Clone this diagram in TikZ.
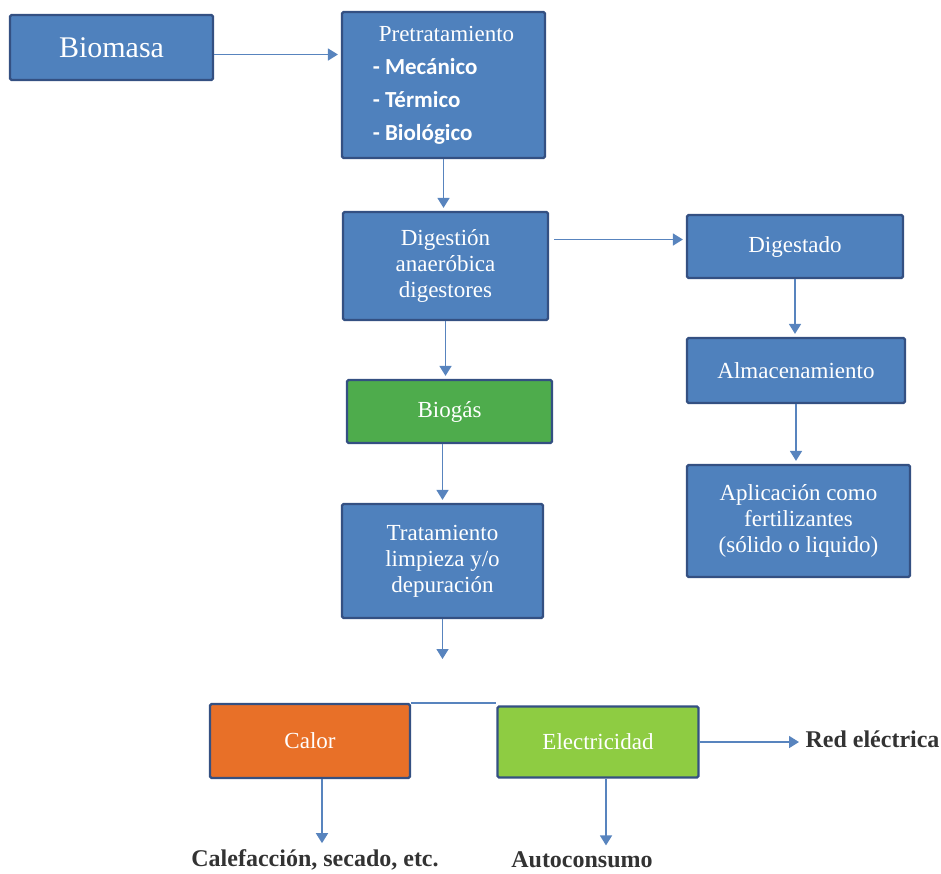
\documentclass[tikz,border=0pt]{standalone}
\usepackage{fontspec}
\setmainfont{Liberation Serif}
\setsansfont{Carlito}
\usetikzlibrary{arrows.meta}
\definecolor{boxblue}{RGB}{79, 129, 189}
\definecolor{edge}{RGB}{52, 80, 130}
\definecolor{gasgreen}{RGB}{78, 172, 76}
\definecolor{heat}{RGB}{232, 112, 40}
\definecolor{power}{RGB}{142, 204, 66}
\definecolor{flow}{RGB}{88, 132, 190}

\begin{document}
\begin{tikzpicture}[x=1pt, y=-1pt,
  box/.style={draw=edge, line width=2.2pt, fill=boxblue, text=white, align=center,
    rounded corners=1.5pt, inner sep=2pt, font=\fontsize{23}{26}\selectfont},
  flowarrow/.style={draw=flow, line width=1.6pt, -{Triangle[width=12pt, length=10pt]}, shorten >=3pt},
  outtext/.style={font=\bfseries\fontsize{24}{26}\selectfont, text=black!80}]
  \useasboundingbox (0, 0) rectangle (941, 873);

  \node[box, minimum width=203pt, minimum height=65pt, font=\fontsize{30}{32}\selectfont]
    (biomasa) at (111.5, 47.5) {Biomasa};
  \node[box, align=left, minimum width=203pt, minimum height=146pt, font=\fontsize{23}{33}\selectfont]
    (pretrat) at (443.5, 85) {\hspace*{6pt}Pretratamiento\\
      {\sffamily\bfseries - Mecánico}\\
      {\sffamily\bfseries - Térmico}\\
      {\sffamily\bfseries - Biológico}};
  \node[box, minimum width=205pt, minimum height=108pt]
    (digestion) at (445.5, 266) {Digestión\\anaeróbica\\digestores};
  \node[box, fill=gasgreen, minimum width=205pt, minimum height=63pt]
    (biogas) at (449.5, 411.5) {Biogás};
  \node[box, minimum width=201pt, minimum height=114pt]
    (tratam) at (442.5, 561) {Tratamiento\\limpieza y/o\\depuración};
  \coordinate (split) at (442.5, 662);

  \node[box, minimum width=216pt, minimum height=63pt]
    (digestado) at (795, 246.5) {Digestado};
  \node[box, minimum width=218pt, minimum height=65pt]
    (almacen) at (796, 370.5) {Almacenamiento};
  \node[box, minimum width=223pt, minimum height=112pt]
    (aplic) at (798.5, 521) {Aplicación como\\fertilizantes\\(sólido o liquido)};

  \node[box, fill=heat, minimum width=200pt, minimum height=74pt]
    (calor) at (310, 741) {Calor};
  \node[box, fill=power, minimum width=201pt, minimum height=71pt]
    (electr) at (598, 742) {Electricidad};
  \node[outtext, anchor=west] (red) at (802, 739) {Red eléctrica};
  \node[outtext] (calef) at (315, 860) {Calefacción, secado, etc.};
  \node[outtext] (autoc) at (582, 860) {Autoconsumo};

  \draw[flowarrow] ([yshift=-7pt]biomasa.east) -- ([yshift=-7pt]biomasa.east -| pretrat.west);
  \draw[flowarrow] (pretrat.south) -- (pretrat.south |- digestion.north);
  \draw[flowarrow, shorten <=5pt] ([yshift=7pt]digestion.east |- digestado.west) -- ([yshift=7pt]digestado.west);
  \draw[flowarrow] (digestion.south) -- (digestion.south |- biogas.north);
  \draw[flowarrow] (biogas.south -| tratam.north) -- (tratam.north);
  \draw[flowarrow] (tratam.south) -- (split);
  \draw[flowarrow] (digestado.south) -- (digestado.south |- almacen.north);
  \draw[flowarrow] (almacen.south) -- (almacen.south |- aplic.north);
  \draw[draw=flow, line width=1.6pt] (calor.north east) -- (calor.north east -| electr.west);
  \draw[flowarrow] (electr.east) -- (electr.east -| red.west);
  \draw[flowarrow] ([xshift=12pt]calor.south) -- ([xshift=12pt]calor.south |- calef.north);
  \draw[flowarrow] ([xshift=8pt]electr.south) -- ([xshift=8pt]electr.south |- autoc.north);
\end{tikzpicture}
\end{document}
